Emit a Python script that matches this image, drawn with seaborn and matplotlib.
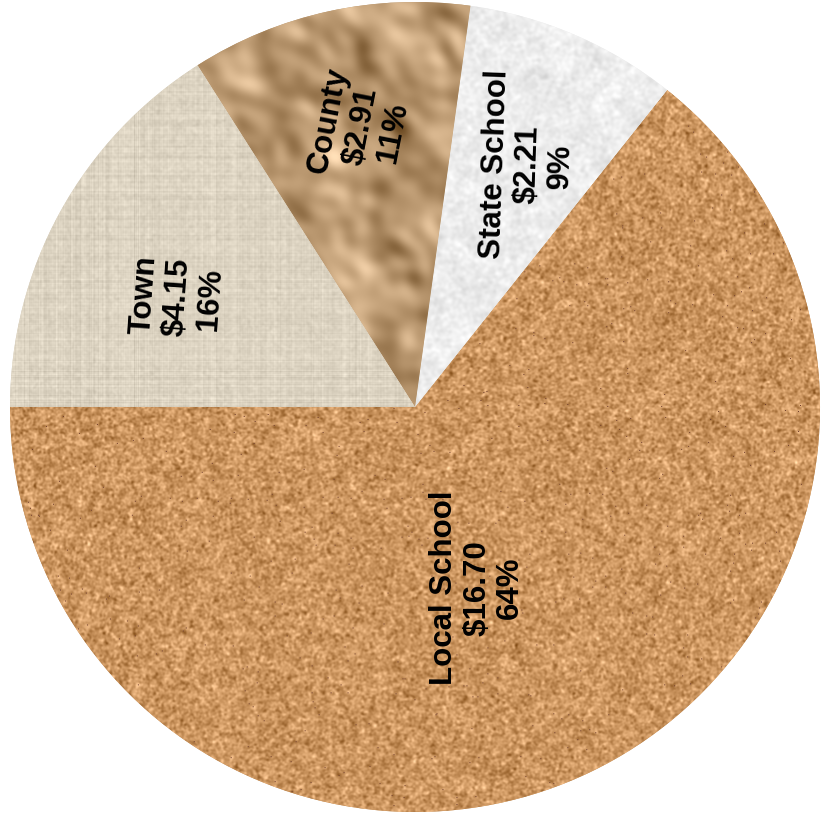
import numpy as np
import matplotlib
matplotlib.use("Agg")
import matplotlib.pyplot as plt
import seaborn as sns

# ---- data ----
categories = ["Local School", "State School", "County", "Town"]
amounts = [16.70, 2.21, 2.91, 4.15]
amount_labels = ["$16.70", "$2.21", "$2.91", "$4.15"]
pct_labels = ["64%", "9%", "11%", "16%"]

# ---- style ----
sns.set_theme(style="white")
plt.rcParams['font.family'] = ['Liberation Sans', 'DejaVu Sans']

base_colors = ["#CB965F", "#ECECEC", "#B8966E", "#DDD4C2"]
label_rot = [90, 88, 79, 86]
label_r = [0.472, 0.66, 0.706, 0.647]
label_dang = [-6.8, -1.9, -1.4, 3.9]

fig = plt.figure(figsize=(8.28, 8.15), dpi=100)
ax = fig.add_axes([0, 0, 1, 1])
R = 405.0
cx, cy = 415.0, 407.0

wedges, _ = ax.pie(amounts, startangle=180, counterclock=True,
                   colors=base_colors, wedgeprops=dict(linewidth=0), radius=1.0)
ax.axis('off')

# ---- textures (visual styling only) ----
rng = np.random.default_rng(7)
N = 820


def blur(a, s):
    H, W = a.shape
    fy = np.fft.fftfreq(H)[:, None]
    fx = np.fft.fftfreq(W)[None, :]
    g = np.exp(-2 * (np.pi * s) ** 2 * (fx ** 2 + fy ** 2))
    b = np.real(np.fft.ifft2(np.fft.fft2(a) * g))
    return (b - b.mean()) / (b.std() + 1e-9)


def rgb(base, field, amp):
    base = np.array(base, dtype=float)
    img = base[None, None, :] + amp * field[:, :, None]
    return np.clip(img / 255.0, 0, 1)


# cork: fine grain
f1 = 0.85 * blur(rng.normal(size=(N, N)), 1.0) + 0.15 * blur(rng.normal(size=(N, N)), 5)
cork = rgb((204, 150, 96), f1, 20)
specks = rng.random((N, N)) < 0.0015
cork[specks] = np.array([110, 60, 45]) / 255.0

# state school: light grey blotchy
f2 = 0.6 * blur(rng.normal(size=(N, N)), 1.5) + 0.4 * blur(rng.normal(size=(N, N)), 5)
state = rgb((237, 237, 237), f2, 8)

# county: crumpled paper
h = blur(rng.normal(size=(N, N)), 22) + 0.4 * blur(rng.normal(size=(N, N)), 8)
gy, gx = np.gradient(h)
shade = (gx - gy)
shade = (shade - shade.mean()) / shade.std()
county = rgb((184, 150, 110), 0.8 * shade + 0.2 * h, 24)

# town: linen
rows = rng.normal(size=N)
cols = rng.normal(size=N)
f4 = 0.5 * rows[:, None] + 0.5 * cols[None, :] + 0.4 * blur(rng.normal(size=(N, N)), 1.0)
town = rgb((221, 212, 194), f4, 9)

textures = [cork, state, county, town]
for w, tex in zip(wedges, textures):
    im = ax.imshow(tex, extent=(-1.01, 1.01, -1.01, 1.01), interpolation='bilinear',
                   zorder=w.get_zorder() + 0.1)
    im.set_clip_path(w)
ax.set_aspect('auto')
ax.set_xlim(-cx / R, (828 - cx) / R)
ax.set_ylim(-(815 - cy) / R, cy / R)

# ---- labels ----
for i, w in enumerate(wedges):
    mid = np.deg2rad((w.theta1 + w.theta2) / 2 + label_dang[i])
    x = label_r[i] * np.cos(mid)
    y = label_r[i] * np.sin(mid)
    ax.text(x, y, f"{categories[i]}\n{amount_labels[i]}\n{pct_labels[i]}",
            ha='center', va='center', multialignment='center',
            rotation=label_rot[i], rotation_mode='anchor',
            fontsize=22.5, fontweight='bold', linespacing=1.12,
            color='black', zorder=10)

fig.savefig("out.png", dpi=100)
